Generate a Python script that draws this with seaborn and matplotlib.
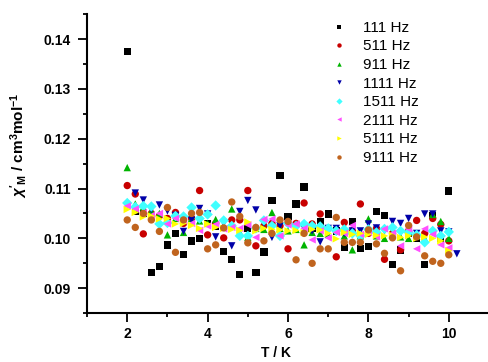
import numpy as np
import pandas as pd
import matplotlib
matplotlib.use("Agg")
import matplotlib.pyplot as plt
from matplotlib.ticker import MultipleLocator
import seaborn as sns

# ---------------- data ----------------
T_main = [2.0, 2.2, 2.4, 2.6, 2.8, 3.0, 3.2, 3.4, 3.6, 3.8, 4.0, 4.2, 4.4, 4.6,
          4.8, 5.0, 5.2, 5.4, 5.6, 5.8, 6.0, 6.2, 6.4, 6.6, 6.8, 7.0, 7.2, 7.4,
          7.6, 7.8, 8.0, 8.2, 8.4, 8.6, 8.8, 9.0, 9.2, 9.4, 9.6, 9.8, 10.0]
T_1111 = [2.2, 2.4, 2.6, 2.8, 3.0, 3.2, 3.4, 3.6, 3.8, 4.0, 4.2, 4.4, 4.6,
          4.8, 5.0, 5.2, 5.4, 5.6, 5.8, 6.0, 6.2, 6.4, 6.6, 6.8, 7.0, 7.2, 7.4,
          7.6, 7.8, 8.0, 8.2, 8.4, 8.6, 8.8, 9.0, 9.2, 9.4, 9.6, 9.8, 10.0, 10.2]

chi_111 = [0.1375, 0.1055, 0.1050, 0.0931, 0.0943, 0.0987, 0.1010, 0.0968, 0.0995,
           0.1000, 0.1030, 0.1025, 0.0974, 0.0958, 0.0927, 0.1020, 0.0931, 0.0973,
           0.1076, 0.1126, 0.1044, 0.1069, 0.1103, 0.1020, 0.1034, 0.1049, 0.1015,
           0.0982, 0.1034, 0.0980, 0.0984, 0.1054, 0.1046, 0.0947, 0.0977, 0.1010,
           0.1000, 0.0947, 0.1046, 0.1000, 0.1095]
chi_511 = [0.1106, 0.1089, 0.1009, 0.1050, 0.1045, 0.1040, 0.1052, 0.1030, 0.1040,
           0.1096, 0.1007, 0.1030, 0.1001, 0.1037, 0.1037, 0.1096, 0.0985, 0.1025,
           0.1030, 0.1025, 0.0979, 0.1030, 0.1071, 0.1029, 0.1049, 0.1020, 0.0963,
           0.1032, 0.1015, 0.1069, 0.1010, 0.1020, 0.0958, 0.1010, 0.0977, 0.1015,
           0.1036, 0.1010, 0.1040, 0.1028, 0.0995]
chi_911 = [0.1142, 0.1069, 0.1063, 0.1055, 0.1050, 0.1007, 0.1040, 0.1012, 0.1040,
           0.1035, 0.1030, 0.1038, 0.1025, 0.1059, 0.1012, 0.1002, 0.1020, 0.1018,
           0.1052, 0.1020, 0.1015, 0.1018, 0.0987, 0.1012, 0.1010, 0.1008, 0.1020,
           0.1005, 0.0977, 0.1005, 0.1039, 0.1005, 0.1000, 0.1008, 0.1003, 0.1000,
           0.1005, 0.1000, 0.1048, 0.1034, 0.1000]
chi_1111 = [0.1091, 0.1077, 0.1058, 0.1067, 0.1055, 0.1046, 0.1014, 0.1037, 0.1060,
            0.1049, 0.1003, 0.1030, 0.0985, 0.1054, 0.1076, 0.1057, 0.1030, 0.1002,
            0.1025, 0.1030, 0.1020, 0.1020, 0.1015, 0.0993, 0.1020, 0.1020, 0.1010,
            0.1015, 0.1015, 0.1029, 0.1021, 0.1015, 0.1034, 0.1030, 0.1040, 0.1010,
            0.1049, 0.1049, 0.1015, 0.1013, 0.0969]
chi_1511 = [0.1071, 0.1063, 0.1065, 0.1064, 0.1029, 0.1031, 0.1045, 0.1044, 0.1062,
            0.1040, 0.1048, 0.1066, 0.1036, 0.1025, 0.1005, 0.1005, 0.1020, 0.1036,
            0.1025, 0.1005, 0.1030, 0.1025, 0.1029, 0.1025, 0.1024, 0.1020, 0.1015,
            0.1018, 0.1010, 0.1005, 0.1018, 0.1012, 0.1019, 0.1022, 0.1015, 0.1012,
            0.1007, 0.0992, 0.1015, 0.1005, 0.1013]
chi_2111 = [0.1065, 0.1059, 0.1052, 0.1046, 0.1050, 0.1029, 0.1040, 0.1035, 0.1030,
            0.1016, 0.1025, 0.1028, 0.1019, 0.1022, 0.1020, 0.1027, 0.1002, 0.1038,
            0.1039, 0.1005, 0.1027, 0.1029, 0.1020, 0.0997, 0.1015, 0.1001, 0.1012,
            0.1010, 0.1026, 0.1008, 0.1012, 0.1003, 0.1019, 0.1010, 0.0985, 0.1019,
            0.0979, 0.1019, 0.1008, 0.0987, 0.0981]
chi_5111 = [0.1058, 0.1052, 0.1043, 0.1045, 0.1039, 0.1040, 0.1029, 0.1030, 0.1026,
            0.1020, 0.1029, 0.1022, 0.1020, 0.1018, 0.1016, 0.1033, 0.1015, 0.1020,
            0.1018, 0.1017, 0.1015, 0.1016, 0.1012, 0.1018, 0.1017, 0.1010, 0.0999,
            0.1012, 0.1008, 0.1010, 0.1008, 0.1006, 0.1005, 0.1006, 0.1002, 0.1005,
            0.1000, 0.1003, 0.1000, 0.0995, 0.0975]
chi_9111 = [0.1037, 0.1022, 0.1050, 0.1037, 0.1014, 0.1062, 0.0972, 0.1037, 0.1050,
            0.1052, 0.0979, 0.0987, 0.1021, 0.1073, 0.1044, 0.0991, 0.1022, 0.0995,
            0.1010, 0.1037, 0.1034, 0.0957, 0.1010, 0.0950, 0.0979, 0.0979, 0.1042,
            0.0992, 0.0992, 0.0992, 0.1017, 0.0989, 0.0970, 0.1001, 0.0935, 0.1026,
            0.1003, 0.0965, 0.0954, 0.0950, 0.0967]

labels = ["111 Hz", "511 Hz", "911 Hz", "1111 Hz", "1511 Hz", "2111 Hz",
          "5111 Hz", "9111 Hz"]
series = [(T_main, chi_111), (T_main, chi_511), (T_main, chi_911),
          (T_1111, chi_1111), (T_main, chi_1511), (T_main, chi_2111),
          (T_main, chi_5111), (T_main, chi_9111)]

xticks = [2, 4, 6, 8, 10]
xticklabels = ["2", "4", "6", "8", "10"]
yticks = [0.09, 0.10, 0.11, 0.12, 0.13, 0.14]
yticklabels = ["0.09", "0.10", "0.11", "0.12", "0.13", "0.14"]

colors = ["#000000", "#c80000", "#00b400", "#0000a8", "#40ffff", "#ff50ff",
          "#ffff00", "#c0641e"]
markers = ["s", "o", "^", "v", "D", "<", ">", "o"]

frames = []
for lab, (t, c) in zip(labels, series):
    frames.append(pd.DataFrame({"T": t, "chi": c, "freq": lab}))
df = pd.concat(frames, ignore_index=True)

# ---------------- plot ----------------
plt.rcParams["font.family"] = ["Liberation Sans", "DejaVu Sans"]
plt.rcParams["mathtext.fontset"] = "custom"
plt.rcParams["mathtext.rm"] = "Liberation Sans:bold"
plt.rcParams["mathtext.it"] = "Liberation Sans:italic:bold"
plt.rcParams["mathtext.bf"] = "Liberation Sans:bold"

fig = plt.figure(figsize=(4.89, 3.62), dpi=100)
ax = fig.add_axes([0.178, 0.135, 0.822, 0.826])

sns.scatterplot(data=df, x="T", y="chi", hue="freq", style="freq",
                palette=dict(zip(labels, colors)),
                markers=dict(zip(labels, markers)),
                hue_order=labels, style_order=labels,
                s=28, linewidth=0, ax=ax, legend=True)

ax.set_xlim(1, 11)
ax.set_ylim(0.085, 0.145)
ax.set_xticks(xticks, xticklabels, fontweight="bold", fontsize=10)
ax.set_yticks(yticks, yticklabels, fontweight="bold", fontsize=10)
ax.xaxis.set_minor_locator(MultipleLocator(1))
ax.yaxis.set_minor_locator(MultipleLocator(0.005))

for sp in ["top", "right"]:
    ax.spines[sp].set_visible(False)
for sp in ["left", "bottom"]:
    ax.spines[sp].set_linewidth(1.5)

ax.tick_params(which="major", direction="out", length=6.5, width=1.3)
ax.tick_params(which="minor", direction="out", length=3, width=1.3)
ax.tick_params(axis="x", which="major", pad=3.5)
ax.tick_params(axis="y", which="major", pad=5)

ax.set_xlabel("T / K", fontsize=10, fontweight="bold")
ax.xaxis.set_label_coords((276 - 87) / 403, -0.11)
ax.set_ylabel(r"$\chi'_{\rm M}$ / cm$^{3}$mol$^{-1}$", fontsize=11,
              fontweight="bold")
ax.yaxis.set_label_coords(-0.143, 0.562)

sns.move_legend(ax, "upper left", bbox_to_anchor=(0.57, 1.003),
                frameon=False, fontsize=11, markerscale=0.6,
                handlelength=2.0, handletextpad=0.55, labelspacing=0.3,
                borderpad=0, title=None)

fig.savefig("out.png", dpi=100)
